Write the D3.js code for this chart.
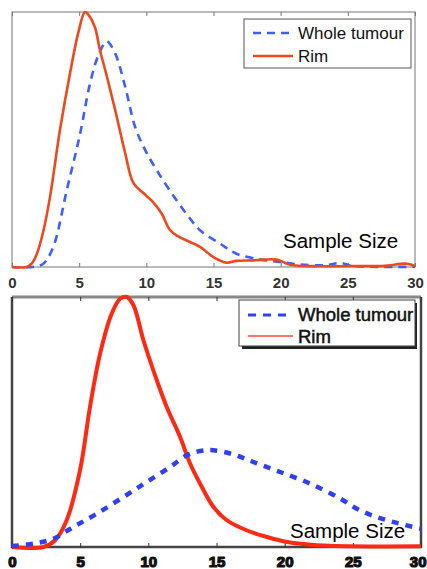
<!DOCTYPE html>
<meta charset="utf-8">
<style>
body { margin: 0; background: #fff; }
svg { display: block; }
.ticks1 text { font: bold 15px "Liberation Sans", Arial, sans-serif; fill: #333; }
.ticks2 text { font: bold 15px "Liberation Sans", Arial, sans-serif; fill: #111; stroke: #111; stroke-width: 1.2px; }
.label { font: 20.5px "Liberation Sans", Arial, sans-serif; fill: #000; }
.leg1 { font: 17px "Liberation Sans", Arial, sans-serif; fill: #111; }
.leg2 { font: 18.5px "Liberation Sans", Arial, sans-serif; fill: #111; stroke: #111; stroke-width: 0.5px; }
</style>
<body>
<script src="https://cdn.jsdelivr.net/npm/d3@7"></script>
<script>

// ---- data (density, normalised so each panel's peak = 1) ----
var xTicks = [0, 5, 10, 15, 20, 25, 30];

// top panel
var rimTopX = [0, 1.1, 1.46, 1.84, 2.33, 2.83, 3.57, 4.32, 4.94, 5.43, 5.68, 6.17, 6.55, 7.05, 7.66, 8.41, 9.03, 9.78, 10.4, 11.14, 11.76, 12.38, 13.25, 14.0, 14.99, 15.98, 16.7, 17.97, 19.7, 20.7, 22.7, 23.9, 25.2, 27.6, 29.4, 30];
var rimTopY = [0, 0, 0.013, 0.05, 0.14, 0.275, 0.537, 0.76, 0.92, 1.0, 0.99, 0.94, 0.85, 0.75, 0.62, 0.45, 0.33, 0.29, 0.26, 0.21, 0.145, 0.12, 0.098, 0.079, 0.039, 0.017, 0.024, 0.026, 0.029, 0.009, 0.003, 0.003, 0.004, 0.004, 0.013, 0.004];
var wholeTopX = [0, 1.5, 2.33, 3.08, 4.07, 5.06, 5.81, 6.43, 7.05, 7.66, 8.41, 9.16, 9.9, 10.77, 11.88, 13.25, 14.0, 15.48, 16.7, 18.5, 19.95, 21.4, 23.4, 24.4, 25.4, 30];
var wholeTopY = [0, 0, 0.013, 0.08, 0.30, 0.52, 0.72, 0.83, 0.885, 0.84, 0.71, 0.55, 0.46, 0.38, 0.29, 0.19, 0.144, 0.092, 0.052, 0.029, 0.02, 0.01, 0.007, 0.016, 0.004, 0.001];

// bottom panel
var rimBotX = [0, 2.3, 3.16, 4.01, 4.99, 5.72, 6.46, 7.31, 7.93, 8.42, 8.91, 9.64, 10.62, 11.35, 12.33, 13.07, 13.8, 14.78, 15.76, 17.2, 18.7, 20.2, 22.4, 24.8, 30];
var rimBotY = [0, 0, 0.027, 0.107, 0.307, 0.56, 0.773, 0.933, 0.993, 1.0, 0.967, 0.827, 0.667, 0.56, 0.44, 0.333, 0.253, 0.16, 0.107, 0.067, 0.04, 0.02, 0.007, 0.003, 0.003];
var wholeBotX = [0, 1.57, 3.03, 4.5, 6.21, 8.17, 9.88, 11.6, 12.82, 13.8, 14.78, 16.25, 17.7, 19.67, 21.9, 24.1, 25.5, 27.5, 30];
var wholeBotY = [0.003, 0.013, 0.033, 0.08, 0.133, 0.2, 0.26, 0.32, 0.367, 0.384, 0.387, 0.37, 0.34, 0.30, 0.253, 0.193, 0.147, 0.107, 0.073];

var seriesNames = ["Whole tumour", "Rim"];

function zip(xs, ys) { return xs.map(function(d, i) { return [d, ys[i]]; }); }

var svg = d3.select("body").append("svg")
    .attr("width", 427)
    .attr("height", 569);

// ================= top panel =================
var x1 = d3.scaleLinear().domain([0, 30]).range([12, 415]);
var y1 = d3.scaleLinear().domain([0, 1]).range([267, 12]);

var line1 = d3.line()
    .x(function(d) { return x1(d[0]); })
    .y(function(d) { return y1(d[1]); })
    .curve(d3.curveCatmullRom.alpha(0.5));

var p1 = svg.append("g");

p1.append("rect")
    .attr("x", x1(0)).attr("y", y1(1))
    .attr("width", x1(30) - x1(0)).attr("height", y1(0) - y1(1))
    .attr("fill", "none").attr("stroke", "#8a8a8a").attr("stroke-width", 1.2);

// inner ticks bottom / top
p1.append("g")
    .attr("class", "ticks1")
    .attr("transform", "translate(0," + y1(0) + ")")
    .call(d3.axisBottom(x1).tickValues(xTicks).tickSizeInner(-4).tickSizeOuter(0).tickPadding(10))
    .call(function(g) { g.select(".domain").remove(); })
    .call(function(g) { g.selectAll("line").attr("stroke", "#777"); });
p1.append("g")
    .attr("transform", "translate(0," + y1(1) + ")")
    .call(d3.axisTop(x1).tickValues(xTicks).tickSizeInner(-4).tickSizeOuter(0).tickFormat(""))
    .call(function(g) { g.select(".domain").remove(); })
    .call(function(g) { g.selectAll("line").attr("stroke", "#777"); });

p1.append("path")
    .datum(zip(wholeTopX, wholeTopY))
    .attr("fill", "none")
    .attr("stroke", "#3f5ff5")
    .attr("stroke-width", 2.6)
    .attr("stroke-dasharray", "8,6")
    .attr("d", line1);

p1.append("path")
    .datum(zip(rimTopX, rimTopY))
    .attr("fill", "none")
    .attr("stroke", "#ea4a1e")
    .attr("stroke-width", 2.6)
    .attr("d", line1);

p1.append("text")
    .attr("class", "label")
    .attr("x", 283).attr("y", 248)
    .text("Sample Size");

// legend
var lg1 = p1.append("g");
lg1.append("rect")
    .attr("x", 244).attr("y", 19).attr("width", 167).attr("height", 49)
    .attr("fill", "#fff").attr("stroke", "#555").attr("stroke-width", 1);
lg1.append("line")
    .attr("x1", 253).attr("x2", 293).attr("y1", 33).attr("y2", 33)
    .attr("stroke", "#3f5ff5").attr("stroke-width", 2.6).attr("stroke-dasharray", "8,6");
lg1.append("line")
    .attr("x1", 253).attr("x2", 293).attr("y1", 56).attr("y2", 56)
    .attr("stroke", "#ea4a1e").attr("stroke-width", 2.6);
lg1.selectAll("text")
    .data(seriesNames)
    .enter().append("text")
    .attr("class", "leg1")
    .attr("x", 298)
    .attr("y", function(d, i) { return 39 + i * 23; })
    .text(function(d) { return d; });

// ================= bottom panel =================
var x2 = d3.scaleLinear().domain([0, 30]).range([12, 421]);
var y2 = d3.scaleLinear().domain([0, 1]).range([547, 297]);

var line2 = d3.line()
    .x(function(d) { return x2(d[0]); })
    .y(function(d) { return y2(d[1]); })
    .curve(d3.curveCatmullRom.alpha(0.5));

var p2 = svg.append("g");

p2.append("line")
    .attr("x1", x2(0)).attr("x2", x2(30)).attr("y1", y2(1)).attr("y2", y2(1))
    .attr("stroke", "#888").attr("stroke-width", 3);
p2.append("path")
    .attr("d", "M" + x2(0) + "," + y2(1) + "V" + y2(0) + "H" + x2(30) + "V" + y2(1))
    .attr("fill", "none").attr("stroke", "#444").attr("stroke-width", 2.5);

p2.append("g")
    .attr("transform", "translate(0," + y2(1) + ")")
    .call(d3.axisTop(x2).tickValues(xTicks).tickSizeInner(-4).tickSizeOuter(0).tickFormat(""))
    .call(function(g) { g.select(".domain").remove(); })
    .call(function(g) { g.selectAll("line").attr("stroke", "#333"); });
p2.append("g")
    .attr("class", "ticks2")
    .attr("transform", "translate(0," + y2(0) + ")")
    .call(d3.axisBottom(x2).tickValues(xTicks).tickSizeInner(-4).tickSizeOuter(0).tickPadding(9))
    .call(function(g) { g.select(".domain").remove(); })
    .call(function(g) { g.selectAll("line").attr("stroke", "#333"); })
    .call(function(g) { g.selectAll(".tick:last-of-type text").attr("text-anchor", "end").attr("dx", 5); });

p2.append("path")
    .datum(zip(rimBotX, rimBotY))
    .attr("fill", "none")
    .attr("stroke", "#ff2a14")
    .attr("stroke-width", 4)
    .attr("d", line2);

p2.append("path")
    .datum(zip(wholeBotX, wholeBotY))
    .attr("fill", "none")
    .attr("stroke", "#2e40f2")
    .attr("stroke-width", 4.5)
    .attr("stroke-dasharray", "7,7")
    .attr("d", line2);

p2.append("text")
    .attr("class", "label")
    .attr("x", 290).attr("y", 538)
    .text("Sample Size");

var lg2 = p2.append("g");
lg2.append("rect")
    .attr("x", 242).attr("y", 303).attr("width", 175).attr("height", 46)
    .attr("fill", "#222");
lg2.append("rect")
    .attr("x", 239).attr("y", 300).attr("width", 176).attr("height", 46)
    .attr("fill", "#fff").attr("stroke", "#444").attr("stroke-width", 1);
lg2.append("line")
    .attr("x1", 248).attr("x2", 293).attr("y1", 315).attr("y2", 315)
    .attr("stroke", "#2e40f2").attr("stroke-width", 3).attr("stroke-dasharray", "8,7");
lg2.append("line")
    .attr("x1", 248).attr("x2", 293).attr("y1", 336).attr("y2", 336)
    .attr("stroke", "#ff4a3a").attr("stroke-width", 1.5);
lg2.selectAll("text")
    .data(seriesNames)
    .enter().append("text")
    .attr("class", "leg2")
    .attr("x", 298)
    .attr("y", function(d, i) { return 321 + i * 22; })
    .text(function(d) { return d; });

</script>
</body>
